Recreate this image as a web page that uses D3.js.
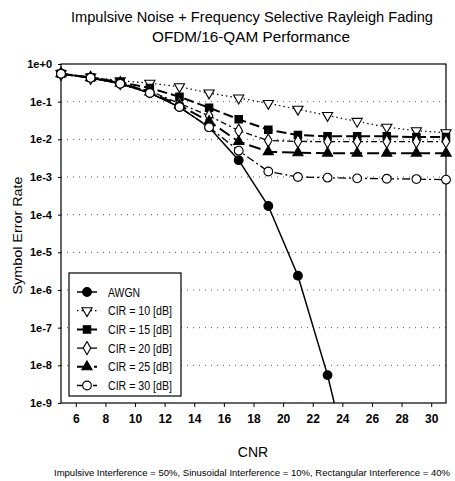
<!DOCTYPE html>
<html>
<head>
<meta charset="utf-8">
<script src="https://cdn.jsdelivr.net/npm/d3@7"></script>
<style>
  body { margin: 0; background: #fff; }
  svg text { font-family: "Liberation Sans Narrow", "Liberation Sans", Arial, sans-serif; fill: #000; }
</style>
</head>
<body>
<div id="chart"></div>
<script>
// CNR values (dB) where each curve is sampled
const cnr = [5, 7, 9, 11, 13, 15, 17, 19, 21, 23, 25, 27, 29, 31];

// symbol error rate per curve
const serAwgn  = [0.55, 0.43, 0.30, 0.17, 0.072, 0.021, 0.0028, 1.7e-4, 2.4e-6, 5.5e-9, 3e-12];
const serCir10 = [0.56, 0.45, 0.36, 0.31, 0.25, 0.17, 0.125, 0.09, 0.063, 0.043, 0.030, 0.021, 0.017, 0.015];
const serCir15 = [0.55, 0.44, 0.33, 0.23, 0.135, 0.069, 0.034, 0.018, 0.013, 0.012, 0.012, 0.012, 0.0115, 0.0115];
const serCir20 = [0.55, 0.43, 0.31, 0.19, 0.09, 0.042, 0.017, 0.0093, 0.0088, 0.0087, 0.0087, 0.0087, 0.0087, 0.0087];
const serCir25 = [0.55, 0.43, 0.31, 0.18, 0.08, 0.03, 0.0087, 0.0047, 0.0044, 0.0043, 0.0043, 0.0043, 0.0043, 0.0043];
const serCir30 = [0.55, 0.43, 0.30, 0.17, 0.072, 0.021, 0.005, 0.0014, 0.001, 0.00096, 0.00092, 0.0009, 0.00088, 0.00085];

const seriesNames = ['AWGN', 'CIR = 10 [dB]', 'CIR = 15 [dB]', 'CIR = 20 [dB]', 'CIR = 25 [dB]', 'CIR = 30 [dB]'];
const xTicks = [6, 8, 10, 12, 14, 16, 18, 20, 22, 24, 26, 28, 30];
const yTicks = [1, 1e-1, 1e-2, 1e-3, 1e-4, 1e-5, 1e-6, 1e-7, 1e-8, 1e-9];
const yTickLabels = ['1e+0', '1e-1', '1e-2', '1e-3', '1e-4', '1e-5', '1e-6', '1e-7', '1e-8', '1e-9'];

// drawing style for each series (marker, fill, dash)
const styles = [
  { shape: d3.symbolCircle,   size: 60, fill: '#000', dash: null,      width: 1.5 },
  { shape: 'triDown',         size: 45, fill: '#fff', dash: '1.5,3',   width: 1.2 },
  { shape: d3.symbolSquare,   size: 55, fill: '#000', dash: '10,4',    width: 2 },
  { shape: d3.symbolDiamond,  size: 50, fill: '#fff', dash: '6,3,2,3', width: 1.3 },
  { shape: d3.symbolTriangle, size: 45, fill: '#000', dash: '12,5',    width: 2 },
  { shape: d3.symbolCircle,   size: 60, fill: '#fff', dash: '8,3,2,3', width: 1.3 }
];

const series = [serAwgn, serCir10, serCir15, serCir20, serCir25, serCir30].map((vals, i) => ({
  name: seriesNames[i],
  style: styles[i],
  points: vals.map((v, j) => ({ x: cnr[j], y: v }))
}));

const W = 455, H = 481;
const margin = { top: 64, right: 9, bottom: 78, left: 61 };
const innerW = W - margin.left - margin.right;
const innerH = H - margin.top - margin.bottom;

const svg = d3.select('#chart').append('svg')
  .attr('width', W).attr('height', H);

const x = d3.scaleLinear().domain([5, 31]).range([0, innerW]);
const y = d3.scaleLog().domain([1e-9, 1]).range([innerH, 0]);

const g = svg.append('g').attr('transform', `translate(${margin.left},${margin.top})`);

svg.append('defs').append('clipPath').attr('id', 'plotClip')
  .append('rect').attr('x', -6).attr('y', -6).attr('width', innerW + 12).attr('height', innerH + 6);

// dotted horizontal grid
g.append('g').selectAll('line')
  .data(yTicks.slice(1, -1))
  .join('line')
  .attr('x1', 0).attr('x2', innerW)
  .attr('y1', d => y(d)).attr('y2', d => y(d))
  .attr('stroke', '#555').attr('stroke-width', 1)
  .attr('stroke-dasharray', '1,5');

// frame
g.append('rect')
  .attr('width', innerW).attr('height', innerH)
  .attr('fill', 'none').attr('stroke', '#000').attr('stroke-width', 1.2);

// axes
const xAxis = g.append('g')
  .attr('transform', `translate(0,${innerH})`)
  .call(d3.axisBottom(x).tickValues(xTicks).tickSize(4).tickPadding(7));
xAxis.select('.domain').remove();
xAxis.selectAll('text').attr('font-size', 12).attr('font-weight', 'bold');

const yAxis = g.append('g')
  .call(d3.axisLeft(y).tickValues(yTicks).tickSize(3).tickPadding(6)
    .tickFormat((d, i) => yTickLabels[i]));
yAxis.select('.domain').remove();
yAxis.selectAll('text').attr('font-size', 11).attr('font-weight', 'bold');

const line = d3.line().x(d => x(d.x)).y(d => y(d.y));

function markerPath(style) {
  if (style.shape === 'triDown') {
    return d3.symbol().type(d3.symbolTriangle).size(style.size)();
  }
  return d3.symbol().type(style.shape).size(style.size)();
}

const plot = g.append('g').attr('clip-path', 'url(#plotClip)');

series.forEach(s => {
  const grp = plot.append('g');
  grp.append('path')
    .datum(s.points)
    .attr('d', line)
    .attr('fill', 'none')
    .attr('stroke', '#000')
    .attr('stroke-width', s.style.width)
    .attr('stroke-dasharray', s.style.dash);

  grp.selectAll('path.mark')
    .data(s.points.filter(p => p.y >= 1e-9))
    .join('path')
    .attr('class', 'mark')
    .attr('d', markerPath(s.style))
    .attr('transform', p => `translate(${x(p.x)},${y(p.y)})${s.style.shape === 'triDown' ? ' rotate(180)' : ''}`)
    .attr('fill', s.style.fill)
    .attr('stroke', '#000')
    .attr('stroke-width', 1.1);
});

// legend
const legend = g.append('g').attr('transform', 'translate(8,209)');
legend.append('rect')
  .attr('width', 112).attr('height', 123)
  .attr('fill', '#fff').attr('stroke', '#000').attr('stroke-width', 1.2);

series.forEach((s, i) => {
  const ly = 19 + i * 18.7;
  const item = legend.append('g').attr('transform', `translate(0,${ly})`);
  item.append('line')
    .attr('x1', 8).attr('x2', 28).attr('y1', 0).attr('y2', 0)
    .attr('stroke', '#000')
    .attr('stroke-width', s.style.width)
    .attr('stroke-dasharray', s.style.dash);
  item.append('path')
    .attr('d', markerPath(s.style))
    .attr('transform', `translate(18,0)${s.style.shape === 'triDown' ? ' rotate(180)' : ''}`)
    .attr('fill', s.style.fill)
    .attr('stroke', '#000')
    .attr('stroke-width', 1.1);
  item.append('text')
    .attr('x', 39).attr('y', 4.5)
    .attr('font-size', 12.5)
    .attr('textLength', i === 0 ? 32 : 64).attr('lengthAdjust', 'spacingAndGlyphs')
    .text(s.name);
});

// titles
svg.append('text')
  .attr('x', 252).attr('y', 22)
  .attr('text-anchor', 'middle')
  .attr('font-size', 15.5)
  .attr('textLength', 362).attr('lengthAdjust', 'spacingAndGlyphs')
  .text('Impulsive Noise + Frequency Selective Rayleigh Fading');
svg.append('text')
  .attr('x', 251).attr('y', 42)
  .attr('text-anchor', 'middle')
  .attr('font-size', 15.5)
  .attr('textLength', 198).attr('lengthAdjust', 'spacingAndGlyphs')
  .text('OFDM/16-QAM Performance');

svg.append('text')
  .attr('transform', `translate(22,${margin.top + innerH / 2 + 2}) rotate(-90)`)
  .attr('text-anchor', 'middle')
  .attr('font-size', 13)
  .attr('textLength', 118).attr('lengthAdjust', 'spacingAndGlyphs')
  .text('Symbol Error Rate');

svg.append('text')
  .attr('x', 253).attr('y', 457)
  .attr('text-anchor', 'middle')
  .attr('font-family', '"Liberation Sans", Arial, sans-serif')
  .attr('font-size', 14)
  .text('CNR');

svg.append('text')
  .attr('x', 252).attr('y', 476)
  .attr('text-anchor', 'middle')
  .attr('font-size', 9.6)
  .attr('textLength', 396).attr('lengthAdjust', 'spacingAndGlyphs')
  .text('Impulsive Interference = 50%, Sinusoidal Interference = 10%, Rectangular Interference = 40%');
</script>
</body>
</html>
